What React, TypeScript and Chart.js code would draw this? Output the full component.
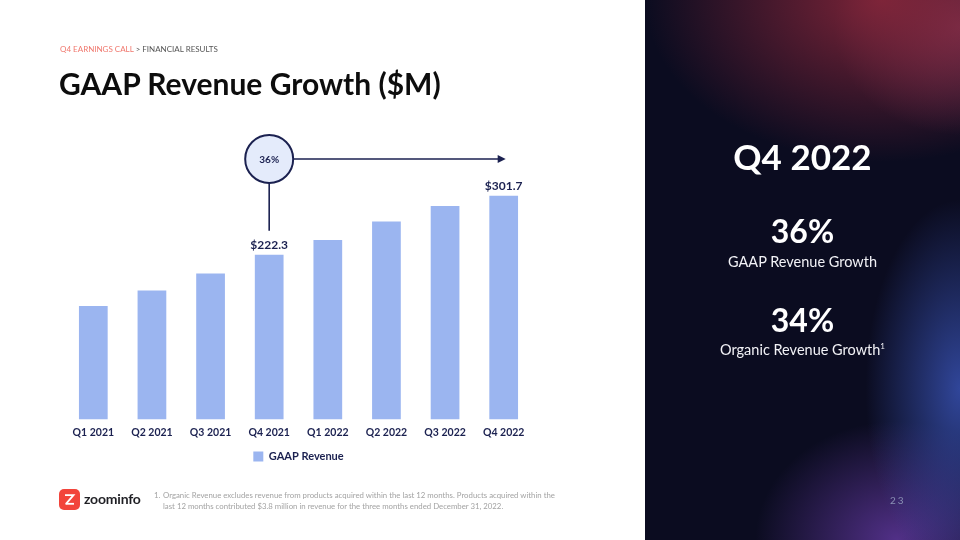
import React, { useEffect, useRef } from 'react';
import { Chart, registerables } from 'chart.js';

Chart.register(...registerables);

const categories = ['Q1 2021', 'Q2 2021', 'Q3 2021', 'Q4 2021', 'Q1 2022', 'Q2 2022', 'Q3 2022', 'Q4 2022'];
const revenue = [153, 174, 197, 222.3, 242, 267, 288, 301.7];
const labeledIndexes = [3, 7];
const growthFrom = 3;
const growthTo = 7;
const growthLabel = '36%';
const seriesName = 'GAAP Revenue';

const NAVY = '#1b2150';
const BAR = '#9bb5f0';
const FONT = 'Lato, "Noto Sans", sans-serif';

const annotationPlugin = {
  id: 'growthAnnotation',
  afterDatasetsDraw(chart: any) {
    const meta = chart.getDatasetMeta(0);
    const ctx = chart.ctx as CanvasRenderingContext2D;
    const from = meta.data[growthFrom];
    const to = meta.data[growthTo];
    const r = 24;
    const cx = from.x;
    const cy = chart.chartArea.top + 36;
    ctx.save();
    ctx.fillStyle = NAVY;
    ctx.font = `bold 12px ${FONT}`;
    ctx.textAlign = 'center';
    ctx.textBaseline = 'middle';
    labeledIndexes.forEach((i) => {
      const bar = meta.data[i];
      ctx.fillText('$' + revenue[i].toFixed(1), bar.x, bar.y - 10);
    });
    ctx.strokeStyle = NAVY;
    ctx.lineWidth = 1.6;
    ctx.beginPath();
    ctx.moveTo(cx, cy + r);
    ctx.lineTo(cx, from.y - 24);
    ctx.stroke();
    const tipX = to.x + 2;
    ctx.beginPath();
    ctx.moveTo(cx + r, cy);
    ctx.lineTo(tipX - 6, cy);
    ctx.stroke();
    ctx.fillStyle = NAVY;
    ctx.beginPath();
    ctx.moveTo(tipX, cy);
    ctx.lineTo(tipX - 8, cy - 4);
    ctx.lineTo(tipX - 8, cy + 4);
    ctx.closePath();
    ctx.fill();
    ctx.beginPath();
    ctx.arc(cx, cy, r, 0, Math.PI * 2);
    ctx.fillStyle = '#e4ebfb';
    ctx.fill();
    ctx.lineWidth = 2;
    ctx.strokeStyle = NAVY;
    ctx.stroke();
    ctx.fillStyle = NAVY;
    ctx.font = `bold 10px ${FONT}`;
    ctx.fillText(growthLabel, cx, cy + 0.5);
    ctx.restore();
  },
};

export default function App() {
  const canvasRef = useRef<HTMLCanvasElement | null>(null);

  useEffect(() => {
    if (!canvasRef.current) return;
    const chart = new Chart(canvasRef.current, {
      type: 'bar',
      data: {
        labels: categories,
        datasets: [
          {
            label: seriesName,
            data: revenue,
            backgroundColor: BAR,
            borderWidth: 0,
            categoryPercentage: 1,
            barPercentage: 0.49,
          },
        ],
      },
      options: {
        responsive: false,
        animation: false,
        layout: { padding: { top: 123, left: 64, right: 427, bottom: 68 } },
        scales: {
          x: {
            grid: { display: false, drawTicks: false },
            border: { display: false },
            ticks: { color: NAVY, font: { family: FONT, size: 10.5, weight: 'bold' }, padding: 7 },
          },
          y: { display: false, min: 0, max: 400 },
        },
        plugins: {
          legend: {
            position: 'bottom',
            labels: {
              boxWidth: 10,
              boxHeight: 10,
              color: NAVY,
              font: { family: FONT, size: 11, weight: 'bold' },
              padding: 5,
            },
          },
          tooltip: { enabled: false },
        },
      },
      plugins: [annotationPlugin],
    } as any);
    return () => chart.destroy();
  }, []);

  const abs = (s: React.CSSProperties): React.CSSProperties => ({ position: 'absolute', ...s });

  return (
    <div style={{ position: 'fixed', left: 0, top: 0, width: 960, height: 540, background: '#ffffff', overflow: 'hidden', fontFamily: FONT }}>
      <div
        style={abs({
          left: 645,
          top: 0,
          width: 315,
          height: 540,
          background:
            'radial-gradient(ellipse 75% 30% at 75% 0%, rgba(135,38,58,0.9), rgba(135,38,58,0) 100%),' +
            'radial-gradient(ellipse 30% 35% at 100% 72%, rgba(55,80,175,0.85), rgba(55,80,175,0) 100%),' +
            'radial-gradient(ellipse 45% 22% at 80% 100%, rgba(105,60,170,0.75), rgba(105,60,170,0) 100%),' +
            'radial-gradient(ellipse 40% 20% at 100% 5%, rgba(170,70,110,0.6), rgba(170,70,110,0) 100%),' +
            '#0b0c20',
        })}
      />
      <canvas ref={canvasRef} width={960} height={540} style={abs({ left: 0, top: 0, width: 960, height: 540 })} />

      <div style={abs({ left: 60, top: 44.5, fontSize: 8, lineHeight: 1, whiteSpace: 'nowrap' })}>
        <span style={{ color: '#f0786e' }}>Q4 EARNINGS CALL</span>
        <span style={{ color: '#555' }}> &gt; FINANCIAL RESULTS</span>
      </div>
      <div style={abs({ left: 59, top: 67.5, fontSize: 30, fontWeight: 700, lineHeight: 1, color: '#0d0d0d', whiteSpace: 'nowrap' })}>
        GAAP Revenue Growth ($M)
      </div>

      <div style={abs({ left: 645, width: 315, top: 139, textAlign: 'center', color: '#fff', fontSize: 35, fontWeight: 700, lineHeight: 1 })}>Q4 2022</div>
      <div style={abs({ left: 645, width: 315, top: 215, textAlign: 'center', color: '#fff', fontSize: 32, fontWeight: 700, lineHeight: 1 })}>36%</div>
      <div style={abs({ left: 645, width: 315, top: 254.5, textAlign: 'center', color: '#f2f2f6', fontSize: 14.5, lineHeight: 1 })}>GAAP Revenue Growth</div>
      <div style={abs({ left: 645, width: 315, top: 303.5, textAlign: 'center', color: '#fff', fontSize: 32, fontWeight: 700, lineHeight: 1 })}>34%</div>
      <div style={abs({ left: 645, width: 315, top: 342.5, textAlign: 'center', color: '#f2f2f6', fontSize: 14.5, lineHeight: 1 })}>
        Organic Revenue Growth<sup style={{ fontSize: 8, verticalAlign: 0, position: 'relative', top: -6 }}>1</sup>
      </div>
      <div style={abs({ left: 890, top: 495, color: '#8a90b4', fontSize: 10, letterSpacing: 2, lineHeight: 1 })}>23</div>

      <svg width={21} height={21} style={abs({ left: 59, top: 489 })} viewBox="0 0 21 21">
        <rect x={0} y={0} width={21} height={21} rx={5} fill="#f2443b" />
        <path d="M6 6.2 H14.5 L7 14.8" stroke="#fff" strokeWidth={1.8} fill="none" />
        <path d="M6.5 14.8 H15" stroke="#fff" strokeWidth={1.8} fill="none" />
      </svg>
      <div style={abs({ left: 84, top: 492, fontSize: 14, fontWeight: 700, color: '#1f1f24', lineHeight: 1, letterSpacing: -0.2 })}>zoominfo</div>

      <div style={abs({ left: 154, top: 490, fontSize: 7.8, color: '#a3a3a3', lineHeight: '10.5px', display: 'flex' })}>
        <div style={{ width: 9 }}>1.</div>
        <div style={{ width: 420 }}>
          Organic Revenue excludes revenue from products acquired within the last 12 months. Products acquired within the
          <br />
          last 12 months contributed $3.8 million in revenue for the three months ended December 31, 2022.
        </div>
      </div>
    </div>
  );
}
